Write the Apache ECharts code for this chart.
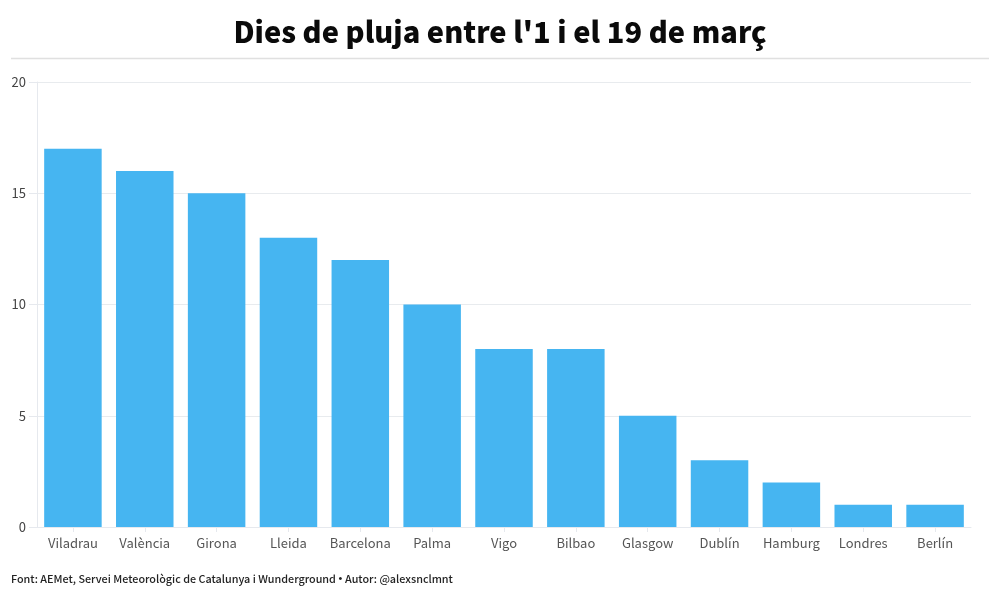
<!DOCTYPE html>
<html>
<head>
<meta charset="utf-8">
<script src="https://cdn.jsdelivr.net/npm/echarts@6/dist/echarts.min.js"></script>
<style>
  html, body { margin: 0; padding: 0; background: #fff; }
  #chart { width: 1000px; height: 598px; }
</style>
</head>
<body>
<div id="chart"></div>
<script>
// dades llegides del gràfic
const cities = ['Viladrau', 'València', 'Girona', 'Lleida', 'Barcelona', 'Palma', 'Vigo', 'Bilbao', 'Glasgow', 'Dublín', 'Hamburg', 'Londres', 'Berlín'];
const rainDays = [17, 16, 15, 13, 12, 10, 8, 8, 5, 3, 2, 1, 1];
const titleText = "Dies de pluja entre l'1 i el 19 de març";
const sourceText = 'Font: AEMet, Servei Meteorològic de Catalunya i Wunderground';
const authorText = 'Autor: @alexsnclmnt';
const fontName = 'Noto Sans CJK SC';
const footFont = '500 10.8px "' + fontName + '"';

const chart = echarts.init(document.getElementById('chart'), null, { renderer: 'canvas' });

chart.setOption({
  backgroundColor: '#fff',
  animation: false,
  title: {
    text: titleText,
    left: 'center',
    top: 12,
    textStyle: { fontFamily: fontName, fontSize: 29, fontWeight: 900, color: '#0a0a0a' }
  },
  graphic: [
    { type: 'line', shape: { x1: 11, y1: 58.5, x2: 989, y2: 58.5 }, style: { stroke: '#e0e0e0', lineWidth: 1.5 } },
    // el punt va a part: la font CJK li dona massa amplada
    { type: 'text', left: 11, top: 574, style: { text: sourceText, font: footFont, fill: '#222' } },
    { type: 'text', left: 338.5, top: 574, style: { text: '•', font: '10.8px "Liberation Sans"', fill: '#222' } },
    { type: 'text', left: 345, top: 574, style: { text: authorText, font: footFont, fill: '#222' } }
  ],
  grid: { left: 37, right: 29, top: 82, bottom: 71 },
  xAxis: {
    type: 'category',
    data: cities,
    axisTick: { show: true, alignWithLabel: true, length: 5, lineStyle: { color: '#e6e9ee' } },
    axisLine: { lineStyle: { color: '#e6e9ee' } },
    axisLabel: { color: '#555', fontFamily: fontName, fontSize: 13, margin: 10, interval: 0 }
  },
  yAxis: {
    type: 'value',
    min: 0,
    max: 20,
    interval: 5,
    axisLine: { show: true, lineStyle: { color: '#e6e9ee' } },
    axisTick: { show: true, length: 8, lineStyle: { color: '#e6e9ee' } },
    splitLine: { lineStyle: { color: '#e8ebee' } },
    axisLabel: { color: '#444', fontFamily: fontName, fontSize: 13, margin: 11 }
  },
  series: [{
    type: 'bar',
    data: rainDays,
    barWidth: 57.5,
    itemStyle: { color: '#46b5f1' }
  }]
});
</script>
</body>
</html>
